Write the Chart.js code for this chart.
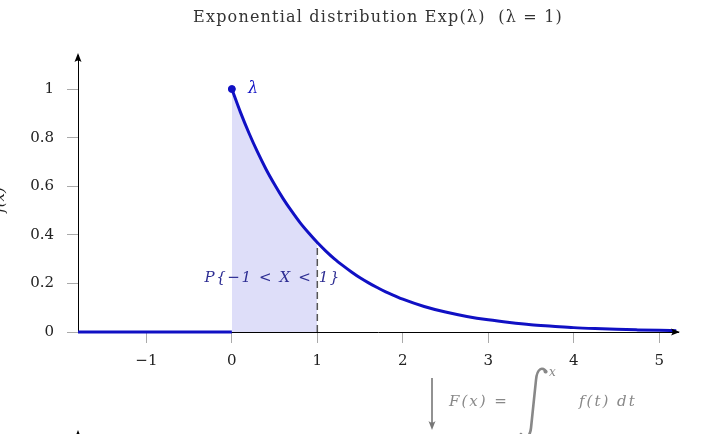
<!DOCTYPE html>
<html>
<head>
<meta charset="utf-8">
<script src="https://cdn.jsdelivr.net/npm/chart.js@4.4.0/dist/chart.umd.min.js"></script>
<style>
  html, body { margin: 0; padding: 0; background: #fff; }
  #wrap { width: 706px; height: 434px; }
</style>
</head>
<body>
<div id="wrap"><canvas id="expChart"></canvas></div>
<script>
// values
const curveX = [0, 0.1, 0.2, 0.3, 0.4, 0.5, 0.6, 0.7, 0.8, 0.9, 1, 1.1, 1.2, 1.3, 1.4, 1.5, 1.6, 1.7, 1.8, 1.9, 2,
                2.25, 2.5, 2.75, 3, 3.25, 3.5, 3.75, 4, 4.25, 4.5, 4.75, 5, 5.2];
const curveY = [1, 0.905, 0.819, 0.741, 0.67, 0.607, 0.549, 0.497, 0.449, 0.407, 0.368, 0.333, 0.301, 0.273, 0.247, 0.223, 0.202, 0.183, 0.165, 0.15, 0.135,
                0.105, 0.082, 0.064, 0.05, 0.039, 0.03, 0.024, 0.018, 0.014, 0.011, 0.0087, 0.0067, 0.0055];
const zeroX = [-1.8, 0];
const zeroY = [0, 0];
const shadeX = [0, 0.1, 0.2, 0.3, 0.4, 0.5, 0.6, 0.7, 0.8, 0.9, 1];
const shadeY = [1, 0.905, 0.819, 0.741, 0.67, 0.607, 0.549, 0.497, 0.449, 0.407, 0.368];
const dashX = [1, 1];
const dashY = [0, 0.368];
const xTicks = [-1, 0, 1, 2, 3, 4, 5];
const yTicks = [0, 0.2, 0.4, 0.6, 0.8, 1];

const title = 'Exponential distribution Exp(\u03bb)  (\u03bb = 1)';
const areaLabel = 'P{\u22121 < X < 1}';

const blue = 'rgb(16,16,196)';
const serif = '"DejaVu Serif", "Liberation Serif", serif';

function pts(xs, ys){
    return xs.map((x, i) => ({x: x, y: ys[i]}));
}

function arrowHead(ctx, x, y, dir){
    ctx.save();
    ctx.translate(x, y);
    ctx.rotate(dir);
    ctx.beginPath();
    ctx.moveTo(0, 0);
    ctx.lineTo(-9, -3.5);
    ctx.quadraticCurveTo(-6, 0, -9, 3.5);
    ctx.closePath();
    ctx.fill();
    ctx.restore();
}

const extras = {
    id: 'extras',
    afterDatasetsDraw(chart){
        const ctx = chart.ctx;
        const xs = chart.scales.x, ys = chart.scales.y;
        const area = chart.chartArea;
        ctx.save();

        // axis arrows
        ctx.fillStyle = '#000';
        arrowHead(ctx, area.right + 2, ys.getPixelForValue(0), 0);
        arrowHead(ctx, area.left, area.top - 2, -Math.PI / 2);

        // lambda next to the dot
        ctx.fillStyle = blue;
        ctx.font = 'italic 16px ' + serif;
        ctx.textAlign = 'left';
        ctx.textBaseline = 'middle';
        ctx.fillText('\u03bb', xs.getPixelForValue(0.19), ys.getPixelForValue(1));

        // probability label
        ctx.fillStyle = '#2c2c92';
        ctx.font = 'italic 15px ' + serif;
        ctx.letterSpacing = '1.6px';
        ctx.fillText(areaLabel, xs.getPixelForValue(-0.32), ys.getPixelForValue(0.223));
        ctx.restore();
    },
    afterDraw(chart){
        const ctx = chart.ctx;
        ctx.save();
        // title
        ctx.fillStyle = '#333';
        ctx.font = '16px ' + serif;
        ctx.letterSpacing = '1.2px';
        ctx.textAlign = 'center';
        ctx.textBaseline = 'middle';
        ctx.fillText(title, 378, 18);
        ctx.letterSpacing = '0px';

        // y axis title, mostly cut off at the left edge
        ctx.save();
        ctx.translate(0, 200);
        ctx.rotate(-Math.PI / 2);
        ctx.font = 'italic 15px ' + serif;
        ctx.fillStyle = '#222';
        ctx.fillText('f(x)', 0, 0);
        ctx.restore();

        // grey formula below the axis
        ctx.strokeStyle = '#777';
        ctx.fillStyle = '#777';
        ctx.lineWidth = 1.6;
        ctx.beginPath();
        ctx.moveTo(432, 378);
        ctx.lineTo(432, 424);
        ctx.stroke();
        arrowHead(ctx, 432, 430, Math.PI / 2);

        ctx.fillStyle = '#888';
        ctx.textAlign = 'left';
        ctx.font = 'italic 15px ' + serif;
        ctx.letterSpacing = '2px';
        ctx.fillText('F(x) =', 449, 402);
        ctx.fillText('f(t) dt', 579, 402);
        ctx.letterSpacing = '0px';
        ctx.font = 'italic 12px ' + serif;
        ctx.fillText('x', 549, 373);
        ctx.fillText('\u2212\u221e', 552, 437);

        // integral sign
        ctx.strokeStyle = '#888';
        ctx.lineWidth = 2.6;
        ctx.lineCap = 'round';
        ctx.beginPath();
        ctx.moveTo(546, 372);
        ctx.bezierCurveTo(543, 366, 537, 368, 536, 380);
        ctx.lineTo(531, 428);
        ctx.bezierCurveTo(530, 438, 524, 440, 521, 434);
        ctx.stroke();
        ctx.fillStyle = '#888';
        ctx.beginPath();
        ctx.arc(545.5, 371.5, 2, 0, Math.PI * 2);
        ctx.fill();

        // tip of another axis peeking at the bottom
        ctx.fillStyle = '#000';
        arrowHead(ctx, 78, 430, -Math.PI / 2);
        ctx.restore();
    }
};

const ctx = document.getElementById('expChart');
const chart = new Chart(ctx, {
    type: 'scatter',
    data: {
        datasets: [
            {
                label: 'shade',
                data: pts(shadeX, shadeY),
                showLine: true,
                borderWidth: 0,
                pointRadius: 0,
                fill: 'origin',
                backgroundColor: 'rgba(222,222,249,1)',
                cubicInterpolationMode: 'monotone',
                order: 4
            },
            {
                label: 'dash',
                data: pts(dashX, dashY),
                showLine: true,
                borderColor: '#555',
                borderWidth: 1.5,
                borderDash: [7, 4],
                pointRadius: 0,
                order: 3
            },
            {
                label: 'zero',
                data: pts(zeroX, zeroY),
                showLine: true,
                borderColor: blue,
                borderWidth: 3,
                pointRadius: 0,
                clip: false,
                order: 2
            },
            {
                label: 'density',
                data: pts(curveX, curveY),
                showLine: true,
                borderColor: blue,
                borderWidth: 3,
                pointRadius: 0,
                cubicInterpolationMode: 'monotone',
                clip: false,
                order: 1
            },
            {
                label: 'dot',
                data: [{x: curveX[0], y: curveY[0]}],
                pointRadius: 3.5,
                pointBackgroundColor: blue,
                pointBorderColor: blue,
                order: 0
            }
        ]
    },
    options: {
        responsive: true,
        maintainAspectRatio: false,
        animation: false,
        layout: { padding: { left: 0, right: 28, top: 55, bottom: 0 } },
        plugins: {
            legend: { display: false },
            tooltip: { enabled: false }
        },
        scales: {
            x: {
                type: 'linear',
                min: -1.8,
                max: 5.22,
                afterBuildTicks: s => { s.ticks = xTicks.map(v => ({value: v})); },
                afterFit: s => { s.height = 102; },
                grid: { drawOnChartArea: false, drawTicks: true, tickLength: 11, color: '#aaa' },
                border: { display: true, color: '#000', width: 1 },
                ticks: {
                    padding: 9,
                    color: '#222',
                    font: { family: serif, size: 15 },
                    callback: v => String(v).replace('-', '\u2212')
                }
            },
            y: {
                type: 'linear',
                min: 0,
                max: 1.14,
                afterBuildTicks: s => { s.ticks = yTicks.map(v => ({value: v})); },
                afterFit: s => { s.width = 78; },
                grid: { drawOnChartArea: false, drawTicks: true, tickLength: 11, color: '#aaa' },
                border: { display: true, color: '#000', width: 1 },
                ticks: {
                    padding: 13,
                    color: '#222',
                    font: { family: serif, size: 15 },
                    callback: v => String(v)
                }
            }
        }
    },
    plugins: [extras]
});
</script>
</body>
</html>
